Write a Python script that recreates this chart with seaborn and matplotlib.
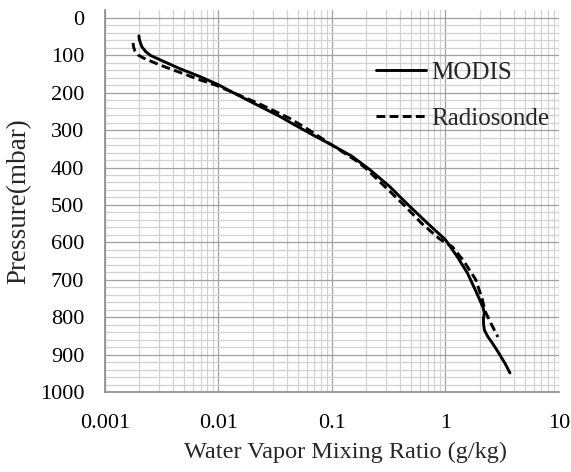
import numpy as np
import pandas as pd
import matplotlib
matplotlib.use("Agg")
import matplotlib.pyplot as plt
import seaborn as sns
from matplotlib.ticker import LogLocator, FixedLocator, NullFormatter

sns.set_theme(style="white")
plt.rcParams['font.family'] = ['Liberation Serif', 'DejaVu Serif']

# MODIS retrieved profile
modis_p = [48, 55, 65, 78, 90, 100, 112, 135, 157, 179, 200, 230, 264, 283, 310, 340, 370,
           406, 450, 500, 550, 593, 640, 682, 730, 775, 789, 805, 820, 834, 852, 870, 888,
           923, 949]
modis_q = [0.00199, 0.002, 0.00204, 0.00212, 0.00228, 0.0025, 0.00305, 0.0045, 0.00687, 0.01,
           0.0135, 0.021, 0.035, 0.045, 0.065, 0.1, 0.15, 0.216, 0.32, 0.47, 0.7, 1.0, 1.28,
           1.56, 1.85, 2.15, 2.2, 2.16, 2.17, 2.2, 2.36, 2.6, 2.84, 3.34, 3.70]

# Radiosonde profile
sonde_p = [67, 76, 88, 99, 108, 126, 145, 166, 180, 200, 230, 268, 300, 340, 380, 400, 450,
           500, 550, 590, 612, 650, 700, 750, 786, 820, 853]
sonde_q = [0.00177, 0.00178, 0.00183, 0.00195, 0.0022, 0.00305, 0.0045, 0.0069, 0.0095, 0.0135,
           0.023, 0.042, 0.063, 0.1, 0.16, 0.195, 0.29, 0.43, 0.62, 0.88, 1.15, 1.45, 1.85,
           2.1, 2.25, 2.55, 2.9]

df = pd.concat([
    pd.DataFrame({'q': modis_q, 'p': modis_p, 'src': 'MODIS'}),
    pd.DataFrame({'q': sonde_q, 'p': sonde_p, 'src': 'Radiosonde'}),
])

fig = plt.figure(figsize=(5.71, 4.72), dpi=100)
ax = fig.add_axes([0.1839, 0.1695, 0.795, 0.8093])

sns.lineplot(data=df, x='q', y='p', hue='src', style='src',
             palette={'MODIS': 'black', 'Radiosonde': 'black'},
             dashes={'MODIS': '', 'Radiosonde': (3, 1.5)},
             sort=False, estimator=None, linewidth=2.1, ax=ax)

ax.set_xscale('log')
ax.set_xlim(0.001, 10)
ax.set_ylim(1000, -21)
ax.yaxis.set_major_locator(FixedLocator(np.arange(0, 1001, 100)))
ax.yaxis.set_minor_locator(FixedLocator(np.arange(0, 1001, 20)))
ax.xaxis.set_minor_locator(LogLocator(base=10, subs=np.arange(2, 10)))
ax.xaxis.set_minor_formatter(NullFormatter())
ax.set_xticks([0.001, 0.01, 0.1, 1, 10])
ax.set_xticklabels(['0.001', '0.01', '0.1', '1', '10'])

ax.grid(which='major', color='#a0a0a0', linewidth=0.9)
ax.grid(which='minor', color='#d2d2d2', linewidth=0.9)
ax.set_axisbelow(True)
for s in ['top', 'right']:
    ax.spines[s].set_visible(False)
ax.spines['left'].set_color('#909090')
ax.spines['bottom'].set_color('#909090')
ax.tick_params(which='both', length=0, labelsize=16, colors='black')
ax.tick_params(axis='x', pad=16)
ax.tick_params(axis='y', pad=15)

ax.set_xlabel('Water Vapor Mixing Ratio (g/kg)', fontsize=17.5, labelpad=7)
ax.xaxis.set_label_coords(0.53, -0.13)
ax.set_ylabel('Pressure(mbar)', fontsize=19.5, labelpad=6)

ax.legend(title=None, frameon=False, fontsize=18, handlelength=2.0, handletextpad=0.2,
          loc='upper left', bbox_to_anchor=(0.548, 0.925), labelspacing=0.95)

plt.savefig('out.png', dpi=100)
